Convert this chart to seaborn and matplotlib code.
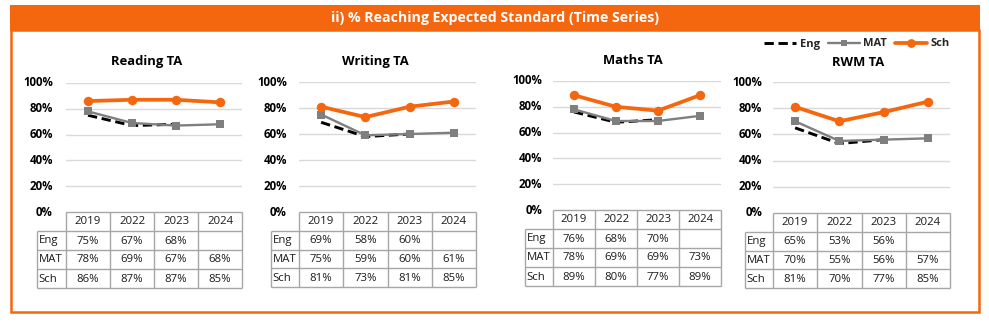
import numpy as np
import pandas as pd
import matplotlib
matplotlib.use("Agg")
import matplotlib.pyplot as plt
from matplotlib.patches import Rectangle
from matplotlib.lines import Line2D
import seaborn as sns

sns.set_theme(style="white")
plt.rcParams['font.family'] = ['Open Sans', 'DejaVu Sans']

# ---------------- data ----------------
title = "ii) % Reaching Expected Standard (Time Series)"
years = ["2019", "2022", "2023", "2024"]
series_names = ["Eng", "MAT", "Sch"]
panel_titles = ["Reading TA", "Writing TA", "Maths TA", "RWM TA"]

reading_eng = [75, 67, 68, None]
reading_mat = [78, 69, 67, 68]
reading_sch = [86, 87, 87, 85]

writing_eng = [69, 58, 60, None]
writing_mat = [75, 59, 60, 61]
writing_sch = [81, 73, 81, 85]

maths_eng = [76, 68, 70, None]
maths_mat = [78, 69, 69, 73]
maths_sch = [89, 80, 77, 89]

rwm_eng = [65, 53, 56, None]
rwm_mat = [70, 55, 56, 57]
rwm_sch = [81, 70, 77, 85]

yticks = [0, 20, 40, 60, 80, 100]

panels_data = [
    (reading_eng, reading_mat, reading_sch),
    (writing_eng, writing_mat, writing_sch),
    (maths_eng, maths_mat, maths_sch),
    (rwm_eng, rwm_mat, rwm_sch),
]

# ---------------- styles ----------------
ORANGE = "#F4670F"
GRAY = "#7F7F7F"
GRID = "#D9D9D9"
TBL = "#A6A6A6"
TXT = "#1a1a1a"
styles = {
    "Eng": dict(color="black", lw=2.1, ls=(0, (3.2, 1.6)), marker=None, ms=0),
    "MAT": dict(color=GRAY, lw=1.7, ls="-", marker="s", ms=5.2),
    "Sch": dict(color=ORANGE, lw=2.7, ls="-", marker="o", ms=6.8),
}

W, H = 989, 329
fig = plt.figure(figsize=(W / 100, H / 100), dpi=100)


def fbox(x, y, w, h):
    return [x / W, 1 - (y + h) / H, w / W, h / H]


# background frame
frame = fig.add_axes([0, 0, 1, 1])
frame.set_xlim(0, W)
frame.set_ylim(H, 0)
frame.axis("off")
frame.add_patch(Rectangle((11, 30), 968, 282, fill=False, edgecolor=ORANGE, lw=1.8))
frame.add_patch(Rectangle((10, 5), 970, 25.5, facecolor=ORANGE, edgecolor="none"))
frame.text(495, 18, title, color="white", fontsize=10.2, fontweight="bold",
           ha="center", va="center")

# panel layout (pixels): label_left, data_left, data_right, y100, y0, table_bottom, title_x, title_y, ylab_right
layouts = [
    (37, 66, 242, 83, 212, 288, 147, 61, 53),
    (271, 299, 476, 82, 212, 287, 375, 61, 287),
    (525, 553, 721, 81, 210, 286, 633, 60, 542),
    (745, 773, 950, 82, 213, 288, 858, 63, 762),
]

x_pos = np.arange(len(years))

for (label_left, dl, dr, y100, y0, tb, tx, ty, ylr), ptitle, vals in zip(layouts, panel_titles, panels_data):
    ax = fig.add_axes(fbox(dl, y100, dr - dl, y0 - y100))
    ax.set_xlim(-0.5, len(years) - 0.5)
    ax.set_ylim(0, 100)
    for g in yticks[1:]:
        ax.axhline(g, color=GRID, lw=1.0, zorder=0)
    for name, v in zip(series_names, vals):
        st = styles[name]
        y = np.array([np.nan if a is None else a for a in v], dtype=float)
        df = pd.DataFrame({"x": x_pos, "y": y})
        sns.lineplot(data=df, x="x", y="y", ax=ax, color=st["color"], linewidth=st["lw"],
                     linestyle=st["ls"], marker=st["marker"], markersize=st["ms"],
                     markeredgewidth=0, zorder=3)
    ax.axis("off")
    ax.set_xlabel("")
    ax.set_ylabel("")

    # y tick labels
    for t in yticks:
        yp = y0 - (y0 - y100) * t / 100
        frame.text(ylr, yp, f"{t}%", ha="right", va="center", fontsize=8.3,
                   fontweight="bold", color="black")
    # panel title
    frame.text(tx, ty, ptitle, ha="center", va="center", fontsize=9.4,
               fontweight="bold", color="black")

    # table
    nrows = 1 + len(series_names)
    rh = (tb - y0) / nrows
    cw = (dr - dl) / len(years)
    lkw = dict(color=TBL, lw=1.0, solid_capstyle="butt")
    frame.plot([dl, dr], [y0, y0], **lkw)
    for i in range(1, nrows + 1):
        yy = y0 + i * rh
        frame.plot([label_left, dr], [yy, yy], **lkw)
    frame.plot([label_left, label_left], [y0 + rh, tb], **lkw)
    for j in range(len(years) + 1):
        xx = dl + j * cw
        frame.plot([xx, xx], [y0, tb], **lkw)
    for j, yr in enumerate(years):
        frame.text(dl + (j + 0.5) * cw, y0 + 0.5 * rh + 0.5, yr, ha="center", va="center",
                   fontsize=8.2, color=TXT)
    for i, (name, v) in enumerate(zip(series_names, vals)):
        yy = y0 + (i + 1.5) * rh + 0.5
        frame.text(label_left + 1.5, yy, name, ha="left", va="center", fontsize=8.2, color=TXT)
        for j, a in enumerate(v):
            if a is None:
                continue
            frame.text(dl + (j + 0.5) * cw, yy, f"{a}%", ha="center", va="center",
                       fontsize=8.2, color=TXT)

# legend
handles = []
for name in series_names:
    st = styles[name]
    handles.append(Line2D([0], [0], color=st["color"], lw=st["lw"], ls=st["ls"],
                          marker=st["marker"], markersize=st["ms"] - 0.5, markeredgewidth=0))
leg = fig.legend(handles, series_names, loc="center", bbox_to_anchor=(857 / W, 1 - 44 / H),
                 ncol=3, frameon=False, handlelength=2.9, handletextpad=0.3, columnspacing=0.7,
                 prop={"weight": "bold", "size": 8.0})

fig.savefig("out.png", dpi=100)
